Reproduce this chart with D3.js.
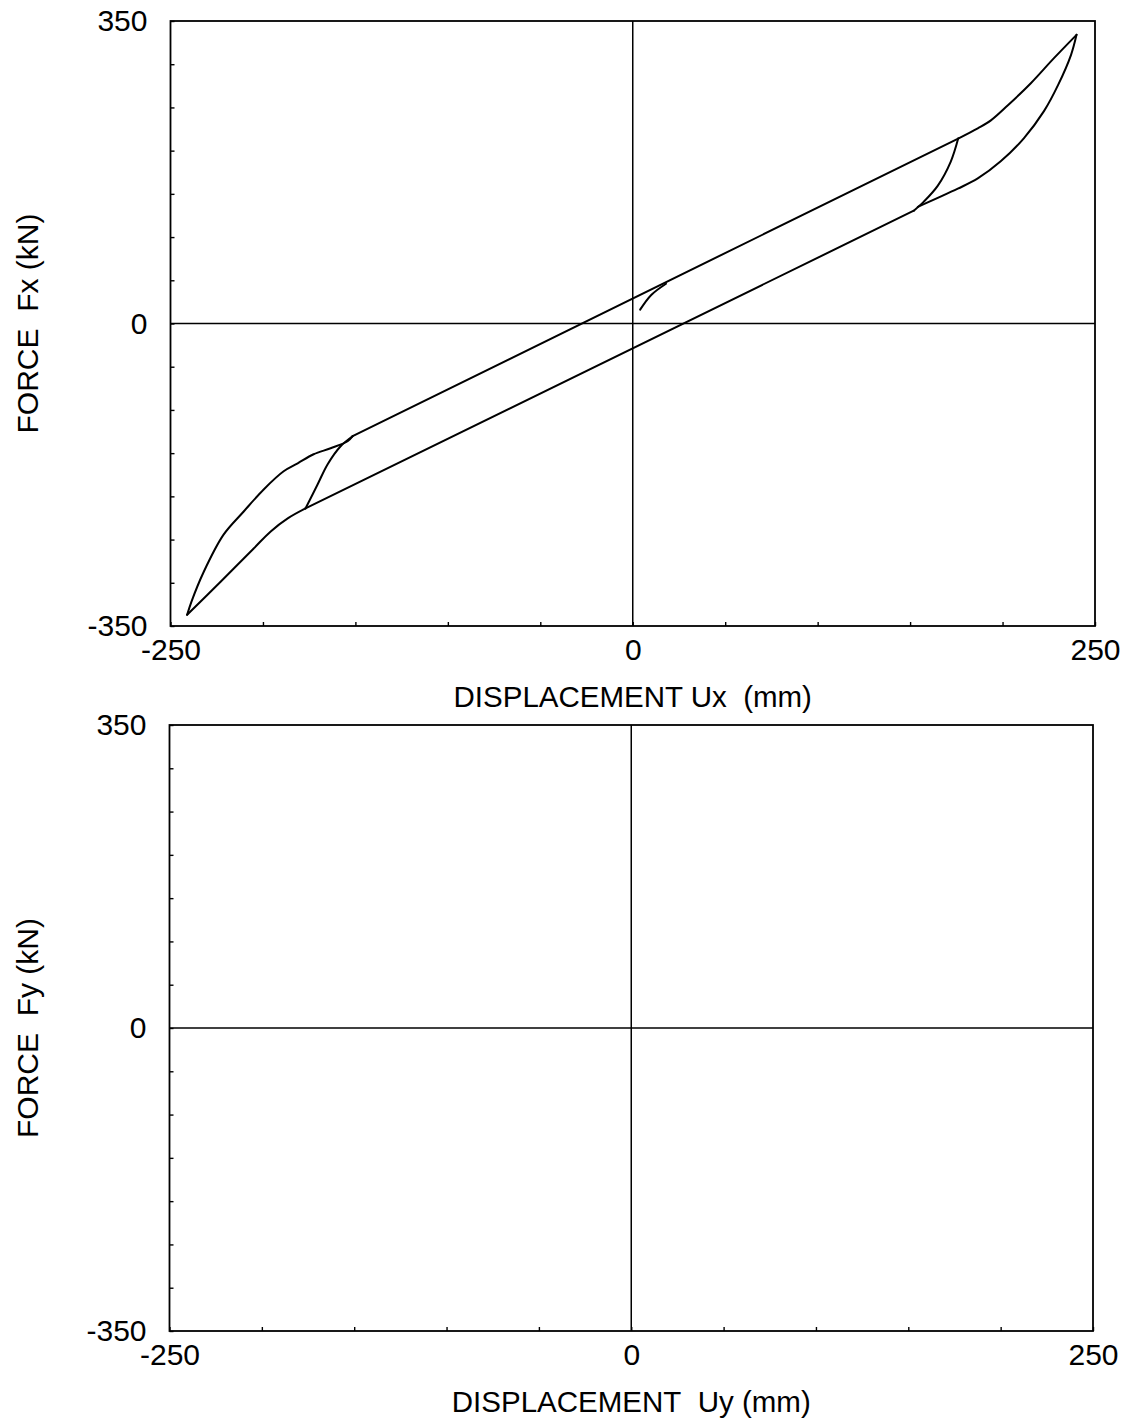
<!DOCTYPE html>
<html>
<head>
<meta charset="utf-8">
<script src="https://cdn.jsdelivr.net/npm/d3@7"></script>
<style>
  body { margin: 0; background: #fff; }
  svg { display: block; font-family: "Liberation Sans", Arial, Helvetica, sans-serif; }
  .tick text { font-size: 30px; fill: #000; }
  .axis-label { font-size: 29.5px; fill: #000; }
</style>
</head>
<body>
<svg id="chart" width="1131" height="1424"></svg>
<script>
// hysteresis loop Ux (mm) / Fx (kN)
const startDisp = [4, 10, 18];
const startForce = [16, 33, 46];

const topRevDisp = [176, 172, 165, 157.4, 152];
const topRevForce = [214, 187.4, 159.6, 141, 130.5];

const lowerDisp = [152, -177];
const lowerForce = [130.5, -214];

const botRevDisp = [-177, -170.4, -165, -158, -151.5];
const botRevForce = [-214, -186, -162.8, -142, -130.4];

const upperDisp = [-151.5, 176];
const upperForce = [-130.4, 214];

const loadDisp = [176, 186.6, 193.7, 202.9, 215.3, 227.8, 240];
const loadForce = [214, 225.8, 235, 252.5, 278, 307, 334];

const unloadDisp = [240, 237, 230, 222.4, 211.5, 199, 186.6, 175.8, 154.2];
const unloadForce = [334, 310.6, 275.8, 245.7, 214.3, 187.6, 167.8, 156, 135];

const tailDisp = [-177, -186.6, -195.8, -205, -222.9, -241];
const tailForce = [-214, -225.5, -240.6, -260.3, -298.8, -337];

const reloadDisp = [-241, -238.7, -232, -221.3, -210.4, -199.6, -188.8, -181.2, -172.6, -163.4, -154.2, -151.5];
const reloadForce = [-337, -322, -287.2, -244.3, -217.5, -192, -171, -161.8, -151.3, -144.3, -136.2, -130.4];

const branchesX = [
  [startDisp, startForce],
  [topRevDisp, topRevForce],
  [lowerDisp, lowerForce],
  [botRevDisp, botRevForce],
  [upperDisp, upperForce],
  [loadDisp, loadForce],
  [unloadDisp, unloadForce],
  [tailDisp, tailForce],
  [reloadDisp, reloadForce],
];
// second panel (Uy / Fy) has no trace
const branchesY = [];

const xDomain = [-250, 250];
const yDomain = [-350, 350];
const xTicks = [-250, -200, -150, -100, -50, 0, 50, 100, 150, 200, 250];
const yTicks = [-350, -300, -250, -200, -150, -100, -50, 0, 50, 100, 150, 200, 250, 300, 350];
const xLabels = [-250, 0, 250];
const yLabels = [-350, 0, 350];

const svg = d3.select("#chart");

const panels = [
  {
    box: { left: 170.5, right: 1095, top: 21, bottom: 626 },
    branches: branchesX,
    xTitle: "DISPLACEMENT Ux\u00a0\u00a0(mm)",
    yTitle: "FORCE\u00a0\u00a0Fx (kN)",
  },
  {
    box: { left: 169.5, right: 1093, top: 725, bottom: 1331 },
    branches: branchesY,
    xTitle: "DISPLACEMENT\u00a0\u00a0Uy (mm)",
    yTitle: "FORCE\u00a0\u00a0Fy (kN)",
  },
];

panels.forEach((p) => {
  const b = p.box;
  const x = d3.scaleLinear().domain(xDomain).range([b.left, b.right]);
  const y = d3.scaleLinear().domain(yDomain).range([b.bottom, b.top]);
  const g = svg.append("g");

  // zero lines
  g.append("line")
    .attr("x1", x(xDomain[0])).attr("x2", x(xDomain[1]))
    .attr("y1", y(0)).attr("y2", y(0))
    .attr("stroke", "#000").attr("stroke-width", 1.7);
  g.append("line")
    .attr("x1", x(0)).attr("x2", x(0))
    .attr("y1", y(yDomain[0])).attr("y2", y(yDomain[1]))
    .attr("stroke", "#000").attr("stroke-width", 1.5);

  // frame
  g.append("rect")
    .attr("x", x(xDomain[0])).attr("y", y(yDomain[1]))
    .attr("width", x(xDomain[1]) - x(xDomain[0]))
    .attr("height", y(yDomain[0]) - y(yDomain[1]))
    .attr("fill", "none").attr("stroke", "#000").attr("stroke-width", 1.8);

  const yAxis = g.append("g")
    .attr("transform", `translate(${b.left},0)`)
    .call(
      d3.axisLeft(y)
        .tickValues(yTicks)
        .tickSizeInner(-4)
        .tickSizeOuter(0)
        .tickPadding(23)
        .tickFormat((d) => (yLabels.includes(d) ? String(d) : ""))
    );
  yAxis.select(".domain").remove();
  yAxis.selectAll("line").attr("stroke", "#000").attr("stroke-width", 1.4);

  const xAxis = g.append("g")
    .attr("transform", `translate(0,${b.bottom})`)
    .call(
      d3.axisBottom(x)
        .tickValues(xTicks)
        .tickSizeInner(-4)
        .tickSizeOuter(0)
        .tickPadding(13)
        .tickFormat((d) => (xLabels.includes(d) ? String(d) : ""))
    );
  xAxis.select(".domain").remove();
  xAxis.selectAll("line").attr("stroke", "#000").attr("stroke-width", 1.4);
  svg.selectAll(".tick text").attr("fill", "#000").style("font-family", null);

  const line = d3.line()
    .x((d) => x(d[0]))
    .y((d) => y(d[1]))
    .curve(d3.curveCatmullRom.alpha(0.5));

  g.selectAll("path.branch")
    .data(p.branches.map(([ds, fs]) => ds.map((d, i) => [d, fs[i]])))
    .join("path")
    .attr("class", "branch")
    .attr("fill", "none")
    .attr("stroke", "#000")
    .attr("stroke-width", 2)
    .attr("stroke-linejoin", "round")
    .attr("stroke-linecap", "round")
    .attr("d", line);

  svg.append("text")
    .attr("class", "axis-label")
    .attr("x", x(0))
    .attr("y", b.bottom + 81)
    .attr("text-anchor", "middle")
    .text(p.xTitle);

  svg.append("text")
    .attr("class", "axis-label")
    .attr("transform", `translate(38,${y(0)}) rotate(-90)`)
    .attr("text-anchor", "middle")
    .style("font-size", "30px")
    .text(p.yTitle);
});
</script>
</body>
</html>
